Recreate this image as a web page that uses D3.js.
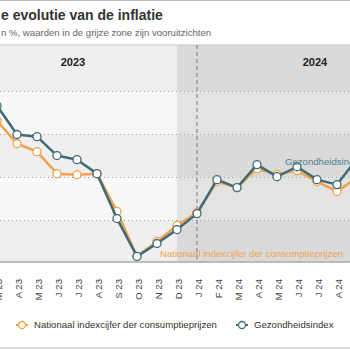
<!DOCTYPE html>
<html>
<head>
<meta charset="utf-8">
<script src="https://cdn.jsdelivr.net/npm/d3@7"></script>
<style>
  body { margin: 0; background: #fff; }
  svg { display: block; font-family: 'Liberation Sans', Arial, sans-serif; }
</style>
</head>
<body>
<svg width="350" height="350"></svg>
<script>
const months = ['M 23','A 23','M 23','J 23','J 23','A 23','S 23','O 23','N 23','D 23',
                'J 24','F 24','M 24','A 24','M 24','J 24','J 24','A 24','S 24'];
const cpi    = [4.64, 3.57, 3.2, 2.18, 2.13, 2.18, 0.42, -1.67, -0.97, -0.23,
                0.37, 1.81, 1.53, 2.41, 2.15, 2.32, 1.81, 1.35, 2.0];
const health = [5.34, 4.0, 3.9, 3.02, 2.83, 2.18, 0.09, -1.67, -1.07, -0.42,
                0.32, 1.9, 1.53, 2.6, 2.04, 2.5, 1.9, 1.67, 2.88];
const years = ['2023', '2024'];
const gridValues = [0, 2, 4, 6];
const seriesNames = ['Nationaal indexcijfer der consumptieprijzen', 'Gezondheidsindex'];

const svg = d3.select('svg');
const width = +svg.attr('width');

const orange = '#f0a24e';
const blue = '#3f6b78';

const plotTop = 45;
const plotBottom = 262;
const forecastStart = 9;   // D 23
const splitIndex = 10;     // J 24

const xScale = d3.scaleLinear().domain([0, months.length - 1]).range([-3, 357]);
const yScale = d3.scaleLinear().domain([-2, 8]).range([263.5, 48.5]);

// borders
svg.append('line').attr('x1', 0).attr('x2', width).attr('y1', 0.5).attr('y2', 0.5)
    .attr('stroke', '#bbb');

// title
svg.append('text').attr('x', 1).attr('y', 20)
    .attr('font-size', 14).attr('font-weight', 'bold').attr('fill', '#333')
    .text('e evolutie van de inflatie');
svg.append('text').attr('x', 1).attr('y', 36)
    .attr('font-size', 9.6).attr('fill', '#666')
    .text('n %, waarden in de grijze zone zijn vooruitzichten');

// background bands
const bandEdges = [plotTop, ...gridValues.slice().reverse().map(yScale), plotBottom];
const g = svg.append('g');
const xf = xScale(forecastStart);
for (let i = 0; i < bandEdges.length - 1; i++) {
    const dark = i % 2 === 0;
    g.append('rect').attr('x', 0).attr('y', bandEdges[i])
        .attr('width', xf).attr('height', bandEdges[i + 1] - bandEdges[i])
        .attr('fill', dark ? '#efefef' : '#f8f8f8');
    g.append('rect').attr('x', xf).attr('y', bandEdges[i])
        .attr('width', width - xf).attr('height', bandEdges[i + 1] - bandEdges[i])
        .attr('fill', dark ? '#dadada' : '#e3e3e3');
}

// gridlines
g.selectAll('.grid').data(gridValues).enter().append('line')
    .attr('x1', 0).attr('x2', width)
    .attr('y1', d => yScale(d)).attr('y2', d => yScale(d))
    .attr('stroke', '#999').attr('stroke-dasharray', '1,3');

svg.append('line').attr('x1', 0).attr('x2', width).attr('y1', plotTop).attr('y2', plotTop)
    .attr('stroke', '#c4c4c4');
svg.append('line').attr('x1', 0).attr('x2', width).attr('y1', plotBottom).attr('y2', plotBottom)
    .attr('stroke', '#aaa').attr('stroke-width', 1.5);

// year split
svg.append('line')
    .attr('x1', xScale(splitIndex)).attr('x2', xScale(splitIndex))
    .attr('y1', plotTop).attr('y2', plotBottom)
    .attr('stroke', '#777').attr('stroke-dasharray', '4,3');

// year labels
const yearPos = [3.8, 15.9];
svg.selectAll('.year').data(years).enter().append('text')
    .attr('x', (d, i) => xScale(yearPos[i])).attr('y', 66)
    .attr('text-anchor', 'middle').attr('font-size', 11).attr('font-weight', 'bold')
    .attr('fill', '#222').text(d => d);

// x axis labels
svg.selectAll('.xlab').data(months).enter().append('text')
    .attr('transform', (d, i) => `translate(${xScale(i) + 1.5},279) rotate(-90)`)
    .attr('text-anchor', 'end').attr('dy', '0.35em')
    .attr('font-size', 9.6).attr('fill', '#444').text(d => d);

// lines
const lineGenerator = d3.line()
    .x((d, i) => xScale(i))
    .y(d => yScale(d));

[[cpi, orange], [health, blue]].forEach(([data, color]) => {
    svg.append('path').attr('d', lineGenerator(data))
        .attr('fill', 'none').attr('stroke', color).attr('stroke-width', 2.5)
        .attr('stroke-linejoin', 'round');
    svg.selectAll(null).data(data).enter().append('circle')
        .attr('cx', (d, i) => xScale(i)).attr('cy', d => yScale(d)).attr('r', 4)
        .attr('fill', '#fff').attr('stroke', color).attr('stroke-width', 1.3);
});

// series annotations
svg.append('text').attr('x', 285).attr('y', 165)
    .attr('font-size', 9.6).attr('fill', '#4f7e8e').text(seriesNames[1]);
svg.append('text').attr('x', 160).attr('y', 257)
    .attr('font-size', 9.6).attr('fill', orange).text(seriesNames[0]);

// legend
const legendItems = [
    {name: seriesNames[0], color: orange, x: 16},
    {name: seriesNames[1], color: blue, x: 236}
];
const legend = svg.selectAll('.legend').data(legendItems).enter().append('g')
    .attr('transform', d => `translate(${d.x},325)`);
legend.append('line').attr('x1', 0).attr('x2', 12)
    .attr('stroke', d => d.color).attr('stroke-width', 2);
legend.append('circle').attr('cx', 6).attr('r', 3.5)
    .attr('fill', '#fff').attr('stroke', d => d.color).attr('stroke-width', 1.3);
legend.append('text').attr('x', 18).attr('dy', '0.35em')
    .attr('font-size', 9.6).attr('fill', '#333').text(d => d.name);

svg.append('line').attr('x1', 0).attr('x2', width).attr('y1', 348).attr('y2', 348)
    .attr('stroke', '#bbb');
</script>
</body>
</html>
